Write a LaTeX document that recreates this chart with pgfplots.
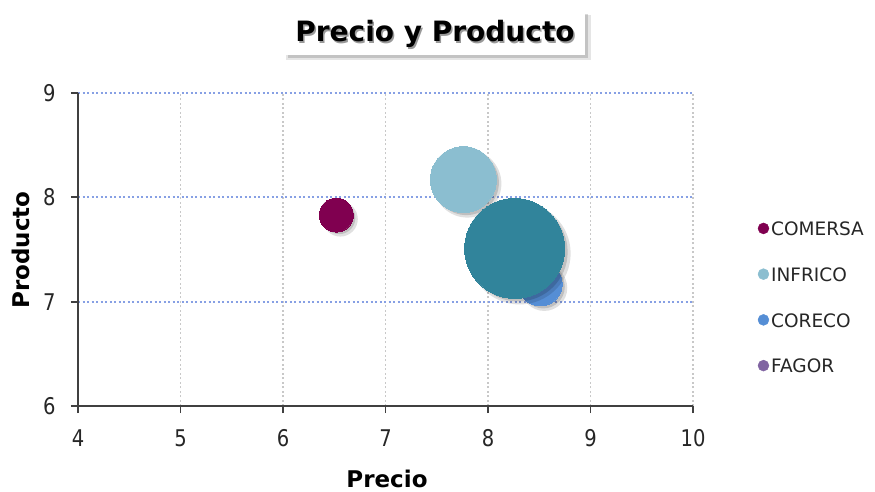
\documentclass[border=0pt]{standalone}
\usepackage{pgfplots}
\pgfplotsset{compat=1.18}
\usepackage{fontspec}
\setmainfont{DejaVu Sans}
\newfontfamily\tickfont[FakeStretch=0.85]{DejaVu Sans}
\definecolor{comersa}{RGB}{128,0,80}
\definecolor{infrico}{RGB}{139,190,208}
\definecolor{coreco}{RGB}{85,142,213}
\definecolor{fagor}{RGB}{49,132,155}
\definecolor{fagorleg}{RGB}{128,100,162}
\definecolor{axgray}{RGB}{64,64,64}
\definecolor{gridblue}{RGB}{135,160,228}
\definecolor{gridgray}{RGB}{200,200,200}
\pgfplotsset{
  bub/.style={forget plot, only marks, mark=*, color=#1,
    mark options={draw=#1, fill=#1, line width=0pt}},
  shad/.style 2 args={forget plot, only marks, mark=*,
    mark options={draw=black, draw opacity=0, fill=black, fill opacity=#1, line width=0pt, xshift=#2, yshift=-#2}},
}
\begin{document}
\begin{tikzpicture}[x=1pt,y=1pt]
\path (0,0) rectangle (875,491);
% title
\fill[black,opacity=0.10] (286,431) rectangle (591,476);
\fill[black,opacity=0.15] (288,433) rectangle (588,477);
\fill[white] (285,436) rectangle (585,479);
\node[anchor=base,text=black!40,inner sep=0pt] at (436.5,447.5) {\fontsize{28}{30}\selectfont\bfseries Precio y Producto};
\node[anchor=base,text=black,inner sep=0pt] at (435,449) {\fontsize{28}{30}\selectfont\bfseries Precio y Producto};
\begin{axis}[
  at={(78pt,85pt)}, anchor=south west, scale only axis,
  width=615pt, height=313pt,
  xmin=4, xmax=10, ymin=6, ymax=9,
  xtick={4,5,6,7,8,9,10}, ytick={6,7,8,9},
  axis lines=left,
  axis line style={-, draw=axgray, line width=1.8pt},
  tick align=outside, major tick length=7pt,
  tick style={draw=axgray, line width=1.8pt},
  xmajorgrids=true, ymajorgrids=true,
  every major grid/.style={line width=1.8pt, dash pattern=on 2pt off 2.5pt},
  x grid style={gridgray},
  y grid style={gridblue},
  ticklabel style={font=\tickfont\fontsize{23}{25}\selectfont, text=black!85},
  xticklabel style={yshift=-13pt},
  yticklabel style={xshift=-12pt},
  /pgf/number format/assume math mode=true,
  legend style={at={(1.105,0.345)}, anchor=west, draw=none, fill=none,
    inner sep=0pt, row sep=26.5pt,
    font=\fontsize{18.5}{20}\selectfont, text=black!85},
  legend cell align=left,
]
% COMERSA
\addplot[shad={0.12}{4pt}, mark size=17.5pt] coordinates {(6.52,7.83)};
\addplot[shad={0.15}{3pt}, mark size=16pt] coordinates {(6.52,7.83)};
\addplot[bub=comersa, mark size=17pt] coordinates {(6.52,7.83)};
% INFRICO
\addplot[shad={0.12}{4pt}, mark size=34pt] coordinates {(7.76,8.17)};
\addplot[shad={0.15}{3pt}, mark size=32.5pt] coordinates {(7.76,8.17)};
\addplot[bub=infrico, mark size=33pt] coordinates {(7.76,8.17)};
% CORECO
\addplot[shad={0.12}{4pt}, mark size=23pt] coordinates {(8.51,7.17)};
\addplot[shad={0.15}{3pt}, mark size=21.5pt] coordinates {(8.51,7.17)};
\addplot[bub=coreco, mark size=22pt] coordinates {(8.51,7.17)};
% FAGOR
\addplot[shad={0.12}{5pt}, mark size=51pt] coordinates {(8.26,7.51)};
\addplot[shad={0.15}{3.5pt}, mark size=49.5pt] coordinates {(8.26,7.51)};
\addplot[bub=fagor, mark size=50pt] coordinates {(8.26,7.51)};
% legend
\addlegendimage{legend image code/.code={\fill[comersa] (5.5pt,1pt) circle (5.5pt);}}
\addlegendentry{COMERSA}
\addlegendimage{legend image code/.code={\fill[infrico] (5.5pt,1pt) circle (5.5pt);}}
\addlegendentry{INFRICO}
\addlegendimage{legend image code/.code={\fill[coreco] (5.5pt,1pt) circle (5.5pt);}}
\addlegendentry{CORECO}
\addlegendimage{legend image code/.code={\fill[fagorleg] (5.5pt,1pt) circle (5.5pt);}}
\addlegendentry{FAGOR}
\end{axis}
\node[anchor=base,inner sep=0pt] at (387,4) {\fontsize{23}{25}\selectfont\bfseries Precio};
\node[anchor=base, rotate=90,inner sep=0pt] at (29,241) {\fontsize{23}{25}\selectfont\bfseries Producto};
\end{tikzpicture}
\end{document}
